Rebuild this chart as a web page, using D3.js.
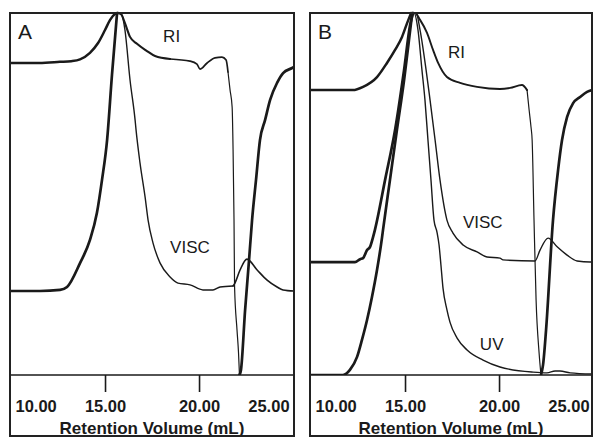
<!DOCTYPE html>
<html>
<head>
    <meta charset="utf-8">
    <title>Triple detector chromatograms</title>
    <script src="https://d3js.org/d3.v7.min.js"></script>
    <style>
        body { margin: 0; background: #fff; }
        svg { display: block; }
    </style>
</head>
<body>
    <div id="chart"></div>
    <script>
        // retention volume (mL) vs normalised detector response (peak = 1)
        const xTicks = [10, 15, 20, 25];
        const xTitle = "Retention Volume (mL)";

        const riA = [[10.0,0.862],[11.5,0.862],[12.6,0.865],[13.2,0.867],[13.67,0.872],[14.2,0.890],[14.63,0.917],
            [15.0,0.953],[15.27,0.981],[15.53,0.997],[15.69,1.0],[15.85,0.997],[16.06,0.972],[16.33,0.934],
            [16.7,0.915],[17.23,0.895],[17.66,0.881],[18.46,0.873],[19.52,0.867],[19.89,0.859],[20.05,0.845],
            [20.43,0.862],[20.85,0.876],[21.22,0.878],[21.44,0.870],[21.54,0.837],[21.65,0.787],[21.76,0.740],
            [21.81,0.622],[21.86,0.428],[21.89,0.243],[22.02,0.124],[22.10,0.061],[22.15,0.0],
            [22.23,0.014],[22.45,0.180],[22.66,0.318],[22.82,0.428],[23.03,0.539],[23.24,0.649],[23.51,0.704],
            [23.78,0.760],[24.15,0.807],[24.47,0.834],[24.95,0.848],[25.05,0.851]];

        const viscA = [[10.0,0.232],[11.54,0.232],[12.61,0.235],[12.98,0.243],[13.67,0.309],[14.2,0.373],
            [14.57,0.448],[14.84,0.539],[15.11,0.649],[15.37,0.829],[15.64,1.0],[15.74,1.0],[15.9,0.994],
            [16.06,0.953],[16.33,0.815],[16.6,0.704],[16.65,0.677],[16.86,0.586],[17.13,0.492],[17.29,0.428],
            [17.55,0.365],[17.93,0.309],[18.46,0.271],[18.88,0.254],[19.52,0.249],[20.21,0.235],[20.74,0.235],
            [21.12,0.243],[21.81,0.246],[21.91,0.254],[22.18,0.290],[22.55,0.320],[23.09,0.290],[23.62,0.262],
            [24.15,0.243],[24.47,0.235],[25.05,0.232]];

        const riB = [[10.0,0.787],[12.23,0.787],[12.77,0.796],[13.51,0.823],[14.04,0.862],[14.47,0.898],
            [14.84,0.934],[15.11,0.972],[15.32,1.0],[15.53,1.0],[15.8,0.981],[16.17,0.945],[16.49,0.898],
            [16.76,0.862],[17.23,0.823],[17.93,0.807],[18.83,0.796],[20.05,0.790],[20.59,0.793],[21.22,0.801],
            [21.49,0.787],[21.6,0.732],[21.7,0.685],[21.76,0.649],[21.86,0.428],[21.97,0.207],[22.13,0.061],
            [22.23,0.0],[22.34,0.028],[22.5,0.124],[22.87,0.428],[23.14,0.566],[23.35,0.649],[23.62,0.713],
            [23.94,0.751],[24.31,0.768],[24.68,0.782],[24.95,0.787]];

        const viscB = [[10.0,0.312],[12.34,0.312],[12.61,0.320],[12.77,0.323],[12.98,0.345],[13.14,0.354],
            [13.3,0.381],[13.4,0.401],[13.94,0.539],[14.47,0.677],[14.95,0.843],[15.27,0.967],[15.43,1.0],
            [15.59,1.0],[15.8,0.953],[16.12,0.843],[16.33,0.760],[16.6,0.649],[16.86,0.539],[17.23,0.428],
            [17.55,0.392],[18.09,0.359],[18.83,0.340],[19.36,0.326],[20.05,0.323],[20.21,0.318],[21.91,0.315],
            [22.18,0.345],[22.61,0.378],[23.09,0.354],[23.62,0.331],[24.15,0.315],[24.84,0.312],[24.95,0.312]];

        const uvB = [[10.0,0.0],[11.7,0.0],[12.07,0.014],[12.45,0.050],[12.71,0.097],[12.98,0.152],
            [13.24,0.215],[13.51,0.290],[13.78,0.381],[13.83,0.401],[14.2,0.539],[14.57,0.677],[14.95,0.815],
            [15.21,0.925],[15.37,0.994],[15.48,1.0],[15.69,0.953],[15.9,0.843],[16.06,0.760],[16.22,0.649],
            [16.38,0.539],[16.54,0.428],[16.7,0.395],[16.81,0.359],[16.91,0.304],[17.02,0.240],[17.23,0.180],
            [17.39,0.146],[17.77,0.102],[18.3,0.069],[19.15,0.041],[20.05,0.022],[21.81,0.008],[22.55,0.006],
            [22.98,0.011],[23.24,0.011],[23.78,0.006],[24.95,0.003]];

        const panels = [
            { left: 10, width: 284, letter: "A",
              series: [
                { data: riA, widths: [[15.7, 2.5], [18.5, 2.1], [21.6, 1.7], [22.16, 1.2], [26, 2.7]] },
                { data: viscA, widths: [[15.7, 2.7], [21.85, 1.4], [26, 1.6]] }
              ],
              labels: [["RI", 18.09, 0.92], ["VISC", 18.46, 0.337]] },
            { left: 310, width: 282, letter: "B",
              series: [
                { data: riB, widths: [[15.5, 2.5], [21.5, 1.9], [22.24, 1.2], [26, 2.7]] },
                { data: viscB, widths: [[15.5, 2.7], [26, 1.4]] },
                { data: uvB, widths: [[15.45, 2.7], [26, 1.4]] }
              ],
              labels: [["RI", 17.28, 0.876], ["VISC", 18.08, 0.406], ["UV", 18.98, 0.069]] }
        ];

        const W = 593, H = 437;
        const plotTop = 13, axisY = 375, frameBottom = 436;
        const ink = "#1a1a1a";

        const svg = d3.select("#chart").append("svg")
            .attr("width", W)
            .attr("height", H);

        panels.forEach((p, i) => {
            const g = svg.append("g");

            const x = d3.scaleLinear()
                .domain([10, 25.05])
                .range([p.left + 1, p.left + 284]);
            const y = d3.scaleLinear()
                .domain([0, 1])
                .range([axisY, plotTop]);

            g.append("clipPath").attr("id", "clip" + i)
                .append("rect")
                .attr("x", p.left).attr("y", plotTop - 2)
                .attr("width", p.width).attr("height", axisY - plotTop + 2);

            const line = d3.line()
                .x(d => x(d[0]))
                .y(d => y(d[1]))
                .curve(d3.curveMonotoneX);
            const plot = g.append("g").attr("clip-path", `url(#clip${i})`);

            p.series.forEach(s => {
                let start = 0;
                s.widths.forEach(([xEnd, w]) => {
                    let end = start;
                    while (end < s.data.length - 1 && s.data[end + 1][0] <= xEnd) end++;
                    const pts = s.data.slice(Math.max(0, start - 1), end + 1);
                    if (pts.length > 1) {
                        plot.append("path")
                            .attr("d", line(pts))
                            .attr("fill", "none")
                            .attr("stroke", ink)
                            .attr("stroke-width", w)
                            .attr("stroke-linejoin", "round")
                            .attr("stroke-linecap", "round");
                    }
                    start = end + 1;
                });
            });

            // x axis
            const axis = d3.axisBottom(x)
                .tickValues(xTicks)
                .tickFormat(d3.format(".2f"))
                .tickSize(17)
                .tickSizeOuter(0)
                .tickPadding(8);
            const ax = g.append("g")
                .attr("transform", `translate(0,${axisY})`)
                .call(axis);
            ax.select(".domain")
                .attr("d", `M${p.left},0H${p.left + p.width}`)
                .attr("stroke", ink).attr("stroke-width", 1.6);
            ax.selectAll(".tick line").attr("stroke", ink).attr("stroke-width", 1.6);
            ax.selectAll(".tick").filter(d => d === 10 || d === 25).select("line").remove();
            ax.selectAll(".tick text")
                .attr("fill", ink)
                .attr("font-family", "'Liberation Sans', Arial, sans-serif")
                .attr("font-weight", "bold")
                .attr("font-size", 16.5)
                .attr("text-anchor", d => d === 10 ? "start" : d === 25 ? "end" : "middle")
                .attr("dx", d => d === 10 ? 4 : d === 25 ? -4 : 0);

            g.append("text")
                .attr("x", p.left + p.width / 2)
                .attr("y", 434)
                .attr("text-anchor", "middle")
                .attr("font-family", "'Liberation Sans', Arial, sans-serif")
                .attr("font-weight", "bold")
                .attr("font-size", 17)
                .attr("fill", ink)
                .text(xTitle);

            // panel letter and trace labels
            g.append("text")
                .attr("x", p.left + 8)
                .attr("y", 39)
                .attr("font-family", "'Liberation Sans', Arial, sans-serif")
                .attr("font-size", 21)
                .attr("fill", ink)
                .text(p.letter);

            p.labels.forEach(([t, lx, ly]) => {
                g.append("text")
                    .attr("x", x(lx))
                    .attr("y", y(ly))
                    .attr("font-family", "'Liberation Sans', Arial, sans-serif")
                    .attr("font-size", 17)
                    .attr("fill", ink)
                    .text(t);
            });

            // frame
            g.append("rect")
                .attr("x", p.left).attr("y", plotTop)
                .attr("width", p.width).attr("height", frameBottom - plotTop)
                .attr("fill", "none")
                .attr("stroke", "#222")
                .attr("stroke-width", 2);
        });
    </script>
</body>
</html>
